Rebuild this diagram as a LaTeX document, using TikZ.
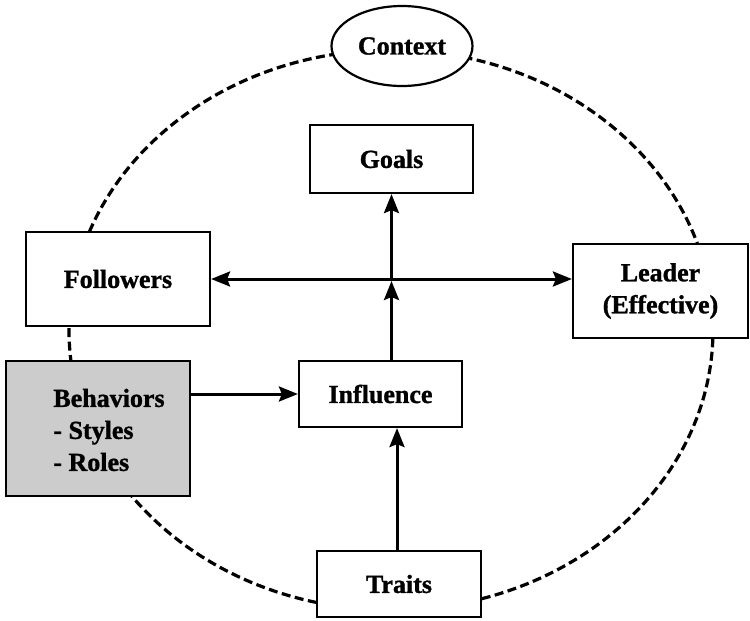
\documentclass[tikz,border=0pt]{standalone}
\usepackage{fontspec}
\setmainfont{Liberation Serif}[BoldFeatures={FakeBold=1.2}]
\usetikzlibrary{arrows.meta,shapes.geometric}

\tikzset{
  boxnode/.style={draw=black, line width=2.2pt, fill=white, rectangle,
    inner sep=0pt, font=\fontsize{26}{32}\selectfont\bfseries, align=center},
  labelnode/.style={inner sep=0pt, font=\fontsize{26}{32}\selectfont\bfseries, align=left},
  ring/.style={draw=black, line width=3.2pt, dash pattern=on 9pt off 4.5pt},
  tip/.style={},
  flow/.style={draw=black, line width=3pt,
    -{Stealth[length=19pt,width=15pt,inset=3pt]}},
  twoway/.style={draw=black, line width=3pt,
    {Stealth[length=19pt,width=15pt,inset=3pt]}-{Stealth[length=19pt,width=15pt,inset=3pt]}}
}

\begin{document}
\begin{tikzpicture}[x=1pt, y=-1pt]
  \useasboundingbox[fill=white] (0,0) rectangle (750,621);

  % dashed context boundary
  \draw[ring] (391,330) ellipse [x radius=322pt, y radius=280pt];

  % context label on top of the boundary
  \node[ellipse, draw=black, line width=2.2pt, fill=white, inner sep=0pt,
        minimum width=141pt, minimum height=80pt,
        font=\fontsize{26}{32}\selectfont\bfseries] (ctx) at (402,46) {Context};

  % boxes
  \node[boxnode, minimum width=163pt, minimum height=68pt] (goals) at (391.5,159) {Goals};
  \node[boxnode, minimum width=184pt, minimum height=94pt] (fol) at (118,279) {Followers};
  \node[boxnode, minimum width=175pt, minimum height=94pt] (lead) at (660.5,291) {Leader\\(Effective)};
  \node[boxnode, minimum width=163pt, minimum height=66pt] (infl) at (380.5,394) {Influence};
  \node[boxnode, minimum width=164pt, minimum height=66pt] (traits) at (399,584) {Traits};
  \node[boxnode, fill=black!20, minimum width=184pt, minimum height=135pt] (beh) at (98,428.5) {};
  \node[labelnode] (behlbl) at (109,430) {Behaviors\\- Styles\\- Roles};

  % junction where the influence line crosses the followers--leader line
  \coordinate (hub) at (goals.south |- fol.east);

  % connectors
  \draw[twoway] (fol.east) -- (fol.east -| lead.west);
  \draw[flow] (beh.east |- infl.west) -- (infl.west);
  \draw[flow, shorten >=2pt] (infl.north -| hub) -- (hub);
  \draw[flow] (hub) -- (goals.south);
  \draw[flow] ([xshift=-2pt]traits.north) -- ([xshift=-2pt]traits.north |- infl.south);
\end{tikzpicture}
\end{document}
